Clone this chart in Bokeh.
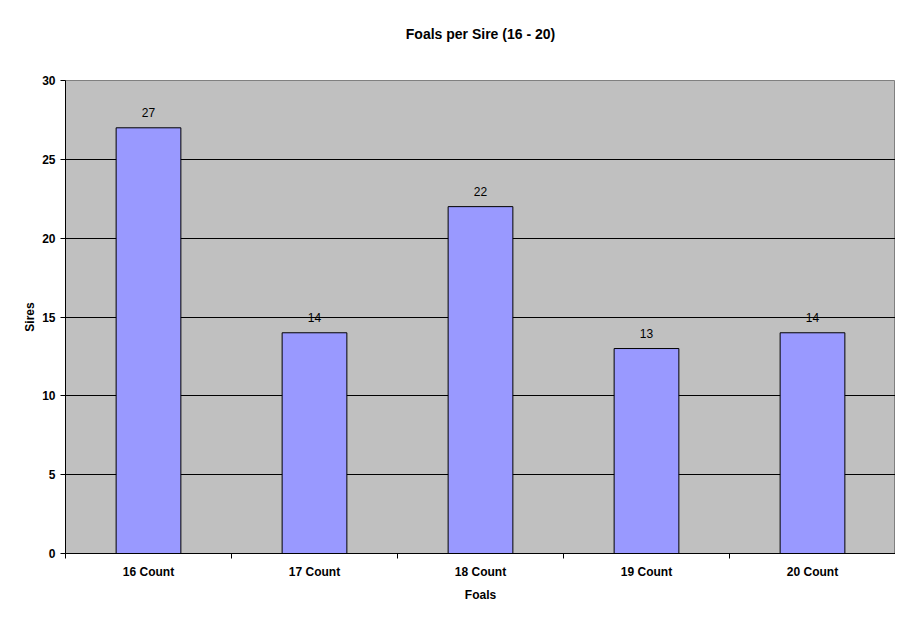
from bokeh.plotting import figure
from bokeh.models import FixedTicker, Range1d, ColumnDataSource, LabelSet, Title
from bokeh.core.properties import value
from bokeh.embed import file_html
from bokeh.resources import INLINE

categories = ["16 Count", "17 Count", "18 Count", "19 Count", "20 Count"]
sires = [27, 14, 22, 13, 14]
y_ticks = [0, 5, 10, 15, 20, 25, 30]
title_text = "Foals per Sire (16 - 20)"

xs = [i + 0.5 for i in range(len(categories))]
src = ColumnDataSource(dict(x=xs, top=sires, lab=[str(v) for v in sires]))

FONT = "Liberation Sans"

p = figure(width=895, height=607, output_backend="svg", toolbar_location=None,
           x_range=Range1d(0, len(categories)), y_range=Range1d(0, 30),
           min_border_left=65, min_border_right=0, min_border_top=80, min_border_bottom=54)
p.border_fill_color = "white"
p.background_fill_color = "#C0C0C0"
p.outline_line_color = "#808080"
p.outline_line_width = 1

p.vbar(x="x", top="top", width=0.39, bottom=0, source=src,
       fill_color="#9999FF", line_color="black", line_width=1)

labels = LabelSet(x="x", y="top", text="lab", source=src, text_align="center",
                  text_baseline="bottom", y_offset=11, text_font=value(FONT),
                  text_font_size="12px", text_color="black")
p.add_layout(labels)

# grid
p.xgrid.visible = False
p.ygrid.ticker = FixedTicker(ticks=y_ticks[1:-1])
p.ygrid.grid_line_color = "black"
p.ygrid.grid_line_width = 1

# y axis
p.yaxis.ticker = FixedTicker(ticks=y_ticks)
p.yaxis.axis_line_color = "black"
p.yaxis.major_tick_line_color = "black"
p.yaxis.major_tick_in = 0
p.yaxis.major_tick_out = 5
p.yaxis.minor_tick_line_color = None
p.yaxis.major_label_text_font = FONT
p.yaxis.major_label_text_font_style = "bold"
p.yaxis.major_label_text_font_size = "12px"
p.yaxis.major_label_text_color = "black"
p.yaxis.major_label_standoff = 5
p.yaxis.axis_label = "Sires"
p.yaxis.axis_label_text_font = FONT
p.yaxis.axis_label_text_font_style = "bold"
p.yaxis.axis_label_text_font_size = "12px"
p.yaxis.axis_label_text_color = "black"
p.yaxis.axis_label_standoff = 2

# x axis
p.xaxis.ticker = FixedTicker(ticks=xs, minor_ticks=list(range(len(categories) + 1)))
p.xaxis.major_label_overrides = {x: c for x, c in zip(xs, categories)}
p.xaxis.axis_line_color = "black"
p.xaxis.major_tick_line_color = None
p.xaxis.minor_tick_line_color = "black"
p.xaxis.minor_tick_in = 0
p.xaxis.minor_tick_out = 5
p.xaxis.major_label_text_font = FONT
p.xaxis.major_label_text_font_style = "bold"
p.xaxis.major_label_text_font_size = "12px"
p.xaxis.major_label_text_color = "black"
p.xaxis.major_label_standoff = 5
p.xaxis.axis_label = "Foals"
p.xaxis.axis_label_text_font = FONT
p.xaxis.axis_label_text_font_style = "bold"
p.xaxis.axis_label_text_font_size = "12px"
p.xaxis.axis_label_text_color = "black"
p.xaxis.axis_label_standoff = 6

# trailing blank line lifts the title higher above the frame
p.title = Title(text=title_text + "\n ", align="center", text_font=FONT,
                text_font_style="bold", text_font_size="14px", text_color="black",
                standoff=45)

open("out.html", "w").write(file_html(p, INLINE))
